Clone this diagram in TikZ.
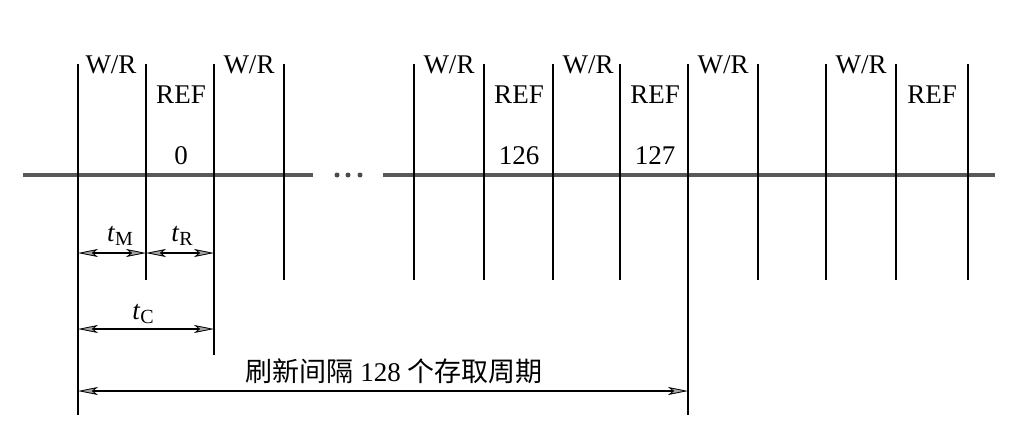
\documentclass[tikz,border=0pt]{standalone}
\usepackage{fontspec}
\setmainfont{Liberation Serif}
\newfontfamily\cjk{Noto Sans CJK SC}
\usetikzlibrary{arrows.meta}

\newcommand{\lowidx}[1]{\raisebox{-0.35ex}{\fontsize{20}{21}\selectfont #1}}

\begin{document}
\begin{tikzpicture}[x=1pt,y=-1pt,
    bar/.style={line width=2pt},
    axis line/.style={line width=3.5pt,draw=black!65},
    dim/.style={line width=1.8pt,{Stealth[length=20pt,width=8pt,inset=5pt,fill=black!35,line width=0.8pt]}-{Stealth[length=20pt,width=8pt,inset=5pt,fill=black!35,line width=0.8pt]}},
    lbl/.style={font=\fontsize{27}{29}\selectfont,inner sep=0pt,anchor=base},
    dot/.style={circle,fill=black!70,inner sep=0pt,minimum size=5pt}]

            \useasboundingbox (0,0) rectangle (1019,433);

            % bars
            \coordinate (a1) at (78,64);   \coordinate (a1b) at (78,415);
            \coordinate (a2) at (146,64);  \coordinate (a2b) at (146,280);
            \coordinate (a3) at (214,64);  \coordinate (a3b) at (214,355);
            \coordinate (a4) at (284,64);  \coordinate (a4b) at (284,280);
            \coordinate (b1) at (414,64);  \coordinate (b1b) at (414,280);
            \coordinate (b2) at (484,64);  \coordinate (b2b) at (484,280);
            \coordinate (b3) at (553,64);  \coordinate (b3b) at (553,280);
            \coordinate (b4) at (620,64);  \coordinate (b4b) at (620,280);
            \coordinate (b5) at (688,64);  \coordinate (b5b) at (688,415);
            \coordinate (b6) at (758,64);  \coordinate (b6b) at (758,280);
            \coordinate (b7) at (826,64);  \coordinate (b7b) at (826,280);
            \coordinate (b8) at (896,64);  \coordinate (b8b) at (896,280);
            \coordinate (b9) at (968,64);  \coordinate (b9b) at (968,280);

            % time axis
            \coordinate (h1) at (23,175);
            \coordinate (h2) at (313,175);
            \coordinate (h3) at (383,175);
            \coordinate (h4) at (995,175);

            \node[dot] (d1) at (337,175) {};
            \node[dot] (d2) at (348,175) {};
            \node[dot] (d3) at (360,175) {};

            % dimension ends
            \coordinate (m1) at (78,253);
            \coordinate (m2) at (146,253);
            \coordinate (m3) at (214,253);
            \coordinate (c1) at (78,329);
            \coordinate (c2) at (214,329);
            \coordinate (p1) at (78,391);
            \coordinate (p2) at (688,391);

            \draw[axis line] (h1) to (h2);
            \draw[axis line] (h3) to (h4);

            \draw[bar] (a1) to (a1b);
            \draw[bar] (a2) to (a2b);
            \draw[bar] (a3) to (a3b);
            \draw[bar] (a4) to (a4b);
            \draw[bar] (b1) to (b1b);
            \draw[bar] (b2) to (b2b);
            \draw[bar] (b3) to (b3b);
            \draw[bar] (b4) to (b4b);
            \draw[bar] (b5) to (b5b);
            \draw[bar] (b6) to (b6b);
            \draw[bar] (b7) to (b7b);
            \draw[bar] (b8) to (b8b);
            \draw[bar] (b9) to (b9b);

            % slot labels
            \node[lbl] (w1) at (111,74) {W/R};
            \node[lbl] (r1) at (181,103) {REF};
            \node[lbl] (n1) at (181,164) {0};
            \node[lbl] (w2) at (249,74) {W/R};
            \node[lbl] (w3) at (449,74) {W/R};
            \node[lbl] (r2) at (519,103) {REF};
            \node[lbl] (n2) at (519,164) {126};
            \node[lbl] (w4) at (588,74) {W/R};
            \node[lbl] (r3) at (655,103) {REF};
            \node[lbl] (n3) at (655,164) {127};
            \node[lbl] (w5) at (723,74) {W/R};
            \node[lbl] (w6) at (861,74) {W/R};
            \node[lbl] (r4) at (932,103) {REF};

            % dimensions
            \draw[dim] (m1) to (m2);
            \draw[dim] (m2) to (m3);
            \draw[dim] (c1) to (c2);
            \draw[dim] (p1) to (p2);

            \node[lbl] (tm) at (120,241) {\textit{t}\lowidx{M}};
            \node[lbl] (tr) at (182,241) {\textit{t}\lowidx{R}};
            \node[lbl] (tc) at (143,319) {\textit{t}\lowidx{C}};
            \node[lbl] (per) at (394,381) {{\cjk 刷新间隔} 128 {\cjk 个存取周期}};

            ;
        \end{tikzpicture}
\end{document}
